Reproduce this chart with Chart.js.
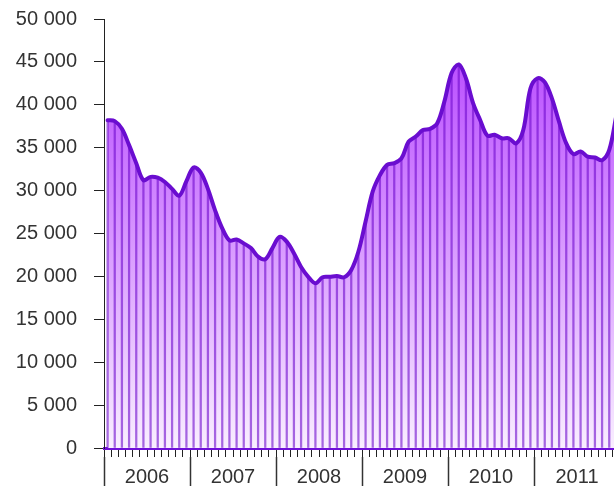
<!DOCTYPE html>
<html>
<head>
<meta charset="utf-8">
<script src="https://cdn.jsdelivr.net/npm/chart.js@4"></script>
<style>
  body { margin: 0; background: #fff; }
  #wrap { width: 614px; height: 486px; overflow: hidden; }
  #inner { position: relative; width: 640px; height: 486px; }
</style>
</head>
<body>
<div id="wrap"><div id="inner"><canvas id="sales"></canvas></div></div>
<script>
// monthly values, Jan 2006 .. Dec 2011
const years = ['2006', '2007', '2008', '2009', '2010', '2011'];
const months = [];
years.forEach(y => { for (let m = 1; m <= 12; m++) months.push(y + '-' + m); });

const values = [
  38200, 38100, 37200, 35300, 33200, 31200, 31600, 31500, 31000, 30200, 29400, 31100,
  32700, 32100, 30200, 27700, 25600, 24200, 24300, 23850, 23300, 22300, 22000, 23300,
  24600, 24050, 22700, 21100, 19950, 19200, 19900, 19950, 20050, 19900, 20750, 22900,
  26400, 29900, 31800, 33000, 33200, 33750, 35700, 36300, 37050, 37200, 37850, 40400,
  43700, 44700, 43100, 40200, 38200, 36400, 36500, 36100, 36100, 35500, 37050, 41900,
  43100, 42650, 40750, 38000, 35500, 34250, 34550, 33950, 33850, 33550, 34750, 38800
];

const yTicks = { min: 0, max: 50000, step: 5000 };

const fmt = v => String(v).replace(/\B(?=(\d{3})+(?!\d))/g, ' ');

const ctx = document.getElementById('sales');

const chart = new Chart(ctx, {
    type: 'bar',
    data: {
        labels: months,
        datasets: [{
            type: 'line',
            data: values,
            borderColor: '#6a0dd0',
            borderWidth: 4,
            borderJoinStyle: 'round',
            borderCapStyle: 'round',
            tension: 0.35,
            pointRadius: 0,
            fill: 'origin',
            backgroundColor: (c) => {
                const a = c.chart.chartArea;
                if (!a) return 'rgba(200,130,255,0.8)';
                const g = c.chart.ctx.createLinearGradient(0, a.top, 0, a.bottom);
                g.addColorStop(0, 'rgb(180,64,255)');
                g.addColorStop(0.5, 'rgb(214,148,255)');
                g.addColorStop(1, 'rgb(249,238,255)');
                return g;
            },
            order: 0
        },
        {
            data: values,
            backgroundColor: 'rgba(110,10,205,0.6)',
            barThickness: 1.6,
            order: 1
        }]
    },
    options: {
        responsive: true,
        maintainAspectRatio: false,
        animation: false,
        layout: { padding: { top: 19, right: 20, left: 0, bottom: 0 } },
        plugins: {
            legend: { display: false },
            tooltip: { enabled: false },
            filler: { drawTime: 'beforeDatasetsDraw' }
        },
        scales: {
            x: {
                type: 'category',
                weight: 0,
                z: 1,
                offset: true,
                grid: { offset: true, drawOnChartArea: false, tickLength: 9, tickColor: '#222', tickWidth: 1 },
                border: { color: '#7010d8', width: 3 },
                ticks: { display: false, autoSkip: false }
            },
            x2: {
                type: 'category',
                labels: years,
                position: 'bottom',
                weight: 1,
                offset: true,
                grid: { offset: true, drawOnChartArea: false, tickLength: 32, tickColor: '#333', tickWidth: 1.5 },
                border: { display: false },
                ticks: { padding: -24, color: '#333', font: { family: 'Liberation Sans, Arial', size: 20 } },
                afterFit: (s) => { s.height = 29; }
            },
            y: {
                min: yTicks.min,
                max: yTicks.max,
                z: 1,
                grid: { drawOnChartArea: false, tickLength: 10, tickColor: '#222' },
                border: { color: '#222', width: 1 },
                ticks: {
                    stepSize: yTicks.step,
                    padding: 17,
                    color: '#333',
                    font: { family: 'Liberation Sans, Arial', size: 20 },
                    callback: (v) => fmt(v)
                },
                afterFit: (s) => {
                    s.width = 104;
                    s.paddingTop = 0;
                    s.paddingBottom = 0;
                }
            }
        }
    }
});
</script>
</body>
</html>
